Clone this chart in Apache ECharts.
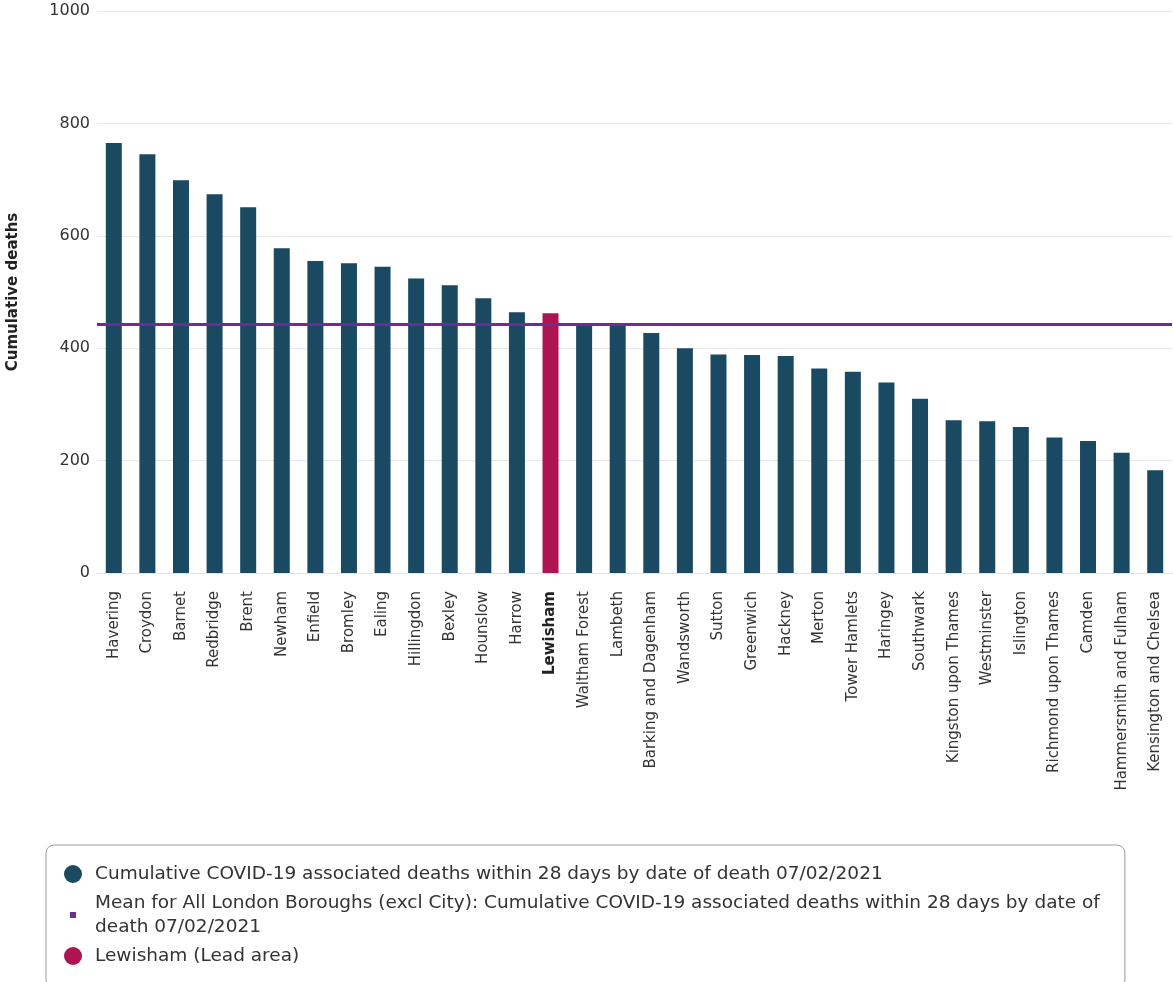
<!DOCTYPE html>
<html>
<head>
<meta charset="utf-8">
<style>
  html, body { margin: 0; padding: 0; background: #ffffff; }
  #chart { width: 1173px; height: 982px; }
</style>
<script src="https://cdn.jsdelivr.net/npm/echarts@6/dist/echarts.min.js"></script>
</head>
<body>
<div id="chart"></div>
<script>
// London boroughs, cumulative COVID-19 associated deaths within 28 days (to 07/02/2021)
const boroughs = [
  'Havering', 'Croydon', 'Barnet', 'Redbridge', 'Brent', 'Newham', 'Enfield', 'Bromley',
  'Ealing', 'Hillingdon', 'Bexley', 'Hounslow', 'Harrow', 'Lewisham', 'Waltham Forest',
  'Lambeth', 'Barking and Dagenham', 'Wandsworth', 'Sutton', 'Greenwich', 'Hackney',
  'Merton', 'Tower Hamlets', 'Haringey', 'Southwark', 'Kingston upon Thames', 'Westminster',
  'Islington', 'Richmond upon Thames', 'Camden', 'Hammersmith and Fulham', 'Kensington and Chelsea'
];
const deaths = [
  765, 745, 699, 674, 651, 578, 555, 551,
  545, 524, 512, 489, 464, 462, 442,
  441, 427, 400, 389, 388, 386,
  364, 358, 339, 310, 272, 270,
  260, 241, 235, 214, 183
];
const leadArea = 'Lewisham';
const londonMean = 443;
const yTicks = { min: 0, max: 1000, interval: 200 };

const nameDeaths = 'Cumulative COVID-19 associated deaths within 28 days by date of death 07/02/2021';
const nameMean = 'Mean for All London Boroughs (excl City): Cumulative COVID-19 associated deaths within 28 days by date of death 07/02/2021';
const nameLead = 'Lewisham (Lead area)';
const meanLegendText = 'Mean for All London Boroughs (excl City): Cumulative COVID-19 associated deaths within 28 days by date of\ndeath 07/02/2021';

const FONT = '"DejaVu Sans", sans-serif';
const BAR = '#1a4a62';
const LEAD = '#ae1452';
const MEAN = '#6c2e90';

const otherValues = deaths.map((v, i) => boroughs[i] === leadArea ? '-' : v);
const leadValues = deaths.map((v, i) => boroughs[i] === leadArea ? v : '-');

const chart = echarts.init(document.getElementById('chart'), null, { renderer: 'canvas' });

chart.setOption({
  animation: false,
  textStyle: { fontFamily: FONT },
  grid: { left: 97, right: 1, top: 11, bottom: 409, containLabel: false, outerBoundsMode: 'none' },
  xAxis: {
    type: 'category',
    data: boroughs,
    axisTick: { show: false },
    axisLine: { show: true, lineStyle: { color: '#e3e3e3', width: 1 } },
    axisLabel: {
      interval: 0,
      rotate: 90,
      margin: 18,
      fontSize: 15,
      color: '#333333',
      fontFamily: FONT,
      formatter: v => v === leadArea ? '{b|' + v + '}' : v,
      rich: { b: { fontWeight: 'bold', fontSize: 15, color: '#222222', fontFamily: FONT } }
    }
  },
  yAxis: {
    type: 'value',
    min: yTicks.min,
    max: yTicks.max,
    interval: yTicks.interval,
    name: 'Cumulative deaths',
    nameLocation: 'middle',
    nameGap: 76,
    nameTextStyle: { fontSize: 15, fontWeight: 'bold', color: '#222222', fontFamily: FONT },
    axisLine: { show: false },
    axisTick: { show: false },
    axisLabel: {
      fontSize: 16,
      color: '#333333',
      margin: 7,
      fontFamily: FONT,
      formatter: v => String(v)
    },
    splitLine: { lineStyle: { color: '#e6e6e6', width: 1 } }
  },
  legend: {
    orient: 'vertical',
    left: 46,
    top: 845,
    height: 200,
    padding: [17, 25, 20, 12],
    itemGap: 5,
    itemWidth: 18,
    itemHeight: 18,
    borderColor: '#9a9a9a',
    borderWidth: 1,
    borderRadius: 8,
    selectedMode: false,
    textStyle: { fontSize: 18.5, color: '#333333', fontFamily: FONT, lineHeight: 24, padding: [0, 0, 0, 8] },
    formatter: name => name === nameMean ? meanLegendText : name,
    data: [
      { name: nameDeaths, icon: 'circle' },
      { name: nameMean, icon: 'rect', itemStyle: { color: MEAN, borderColor: '#ffffff', borderWidth: 12 } },
      { name: nameLead, icon: 'circle' }
    ]
  },
  series: [
    {
      name: nameDeaths,
      type: 'bar',
      stack: 'boroughs',
      data: otherValues,
      barWidth: 16,
      itemStyle: { color: BAR }
    },
    {
      name: nameLead,
      type: 'bar',
      stack: 'boroughs',
      data: leadValues,
      barWidth: 16,
      itemStyle: { color: LEAD }
    },
    {
      name: nameMean,
      type: 'line',
      data: [],
      itemStyle: { color: MEAN },
      lineStyle: { color: MEAN, width: 3 },
      markLine: {
        silent: true,
        symbol: 'none',
        label: { show: false },
        lineStyle: { color: MEAN, width: 3, type: 'solid' },
        data: [{ yAxis: londonMean }]
      }
    }
  ]
});
</script>
</body>
</html>
